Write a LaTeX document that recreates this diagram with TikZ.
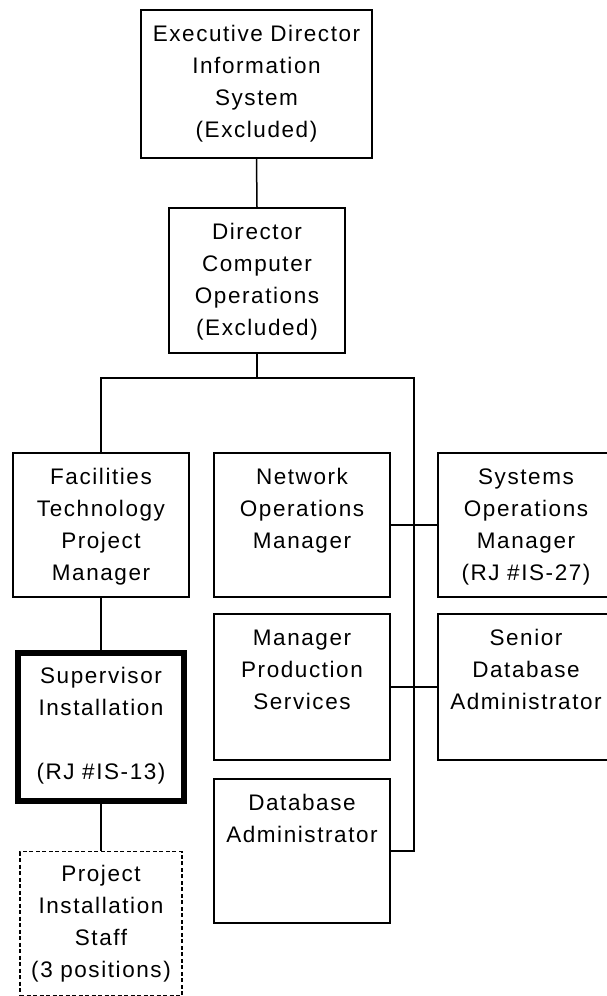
\documentclass[tikz,border=0pt]{standalone}
\usepackage{fontspec}
\setmainfont[LetterSpace=7]{Liberation Sans}
\begin{document}
\begin{tikzpicture}[x=1pt,y=-1pt,line width=1.5pt,
    post/.style={draw,anchor=north,inner sep=0pt,align=center,text width=176pt,
      text height=32pt,text depth=112pt,font=\fontsize{22.5}{32}\selectfont}]
    \useasboundingbox (0,0) rectangle (607,996);
    % top of the chart
    \node[post,text width=231pt,text depth=116pt] (exec) at (256.5,9)
      {Executive Director\\Information\\System\\(Excluded)};
    \node[post,text depth=113pt] (dir) at (257,207)
      {Director\\Computer\\Operations\\(Excluded)};
    % first row
    \node[post] (fac) at (101,452) {Facilities\\Technology\\Project\\Manager};
    \node[post] (net) at (302,452) {Network\\Operations\\Manager};
    \node[post] (sys) at (526,452) {Systems\\Operations\\Manager\\(RJ \#IS-27)};
    % second and third row
    \node[post,text depth=114pt] (mps) at (302,613) {Manager\\Production\\Services};
    \node[post,text depth=114pt] (sdba) at (526,613) {Senior\\Database\\Administrator};
    \node[post] (dba) at (302,778) {Database\\Administrator};
    \node[post,line width=6pt,text width=166pt,text height=30pt,text depth=118pt] (sup) at (101,650)
      {Supervisor\\Installation\\[\baselineskip](RJ \#IS-13)};
    \node[post,line width=1.2pt,dash pattern=on 4pt off 2.5pt,text width=162pt,text height=30pt,text depth=114pt] (staff) at (101,851)
      {Project\\Installation\\Staff\\(3 positions)};
    % connectors
    \coordinate (bar) at (414,378);
    \draw (exec.south) -- (dir.north);
    \draw (dir.south) -- (dir.south |- bar);
    \draw (fac.north) |- (bar) -- (bar |- dba.east) -- (dba.east);
    \draw (net.east) -- (sys.west);
    \draw (mps.east) -- (sdba.west);
    \draw (fac.south) -- (sup.north);
    \draw (sup.south) -- (staff.north);
\end{tikzpicture}
\end{document}
